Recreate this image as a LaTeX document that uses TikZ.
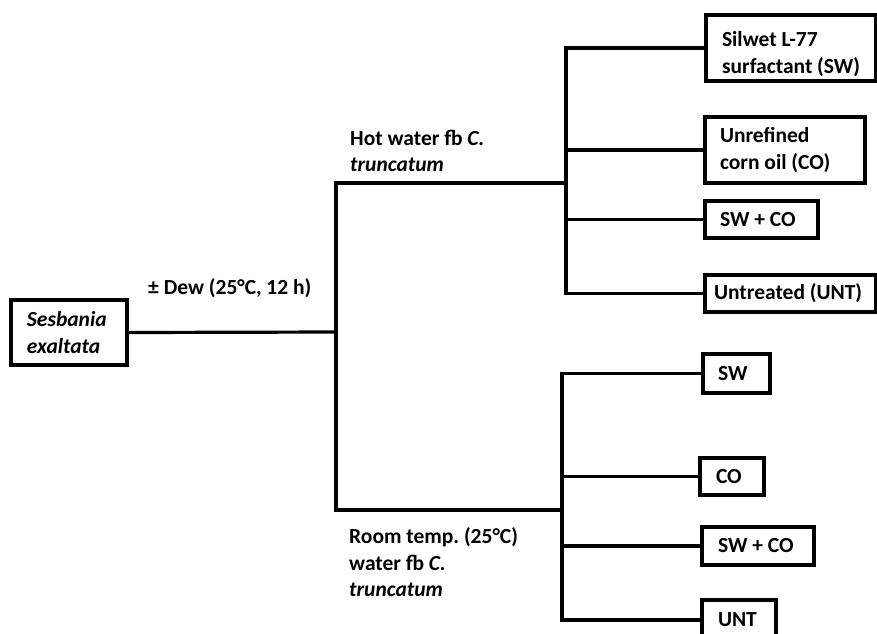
\documentclass[tikz,border=0pt]{standalone}
\usepackage{fontspec}
\setmainfont{Carlito}
\begin{document}
\frenchspacing
\begin{tikzpicture}[x=1pt,y=-1pt,
  every node/.style={font=\fontsize{21.5}{26.5}\selectfont\bfseries},
  bx/.style={draw, line width=3.2pt, align=flush left, inner ysep=0pt},
  lbl/.style={align=flush left, inner sep=0pt, anchor=west},
  conn/.style={line width=3.2pt}]
\useasboundingbox (0,0) rectangle (877,633);
% boxes
\node[bx, minimum width=116, minimum height=65, inner xsep=16, text width=84] (ses) at (69,332.5) {\textit{Sesbania}\\\textit{exaltata}};
\node[bx, minimum width=170, minimum height=66, inner xsep=16, text width=138] (b1) at (791,48) {\rule{0pt}{27pt}Silwet L-77\\surfactant (SW)};
\node[bx, minimum width=160, minimum height=66, inner xsep=15, text width=130] (b2) at (785,150) {Unrefined\\corn oil (CO)};
\node[bx, minimum width=113, minimum height=37, inner xsep=15, text width=83] (b3) at (761.5,219.5) {SW + CO};
\node[bx, minimum width=171, minimum height=37, inner xsep=9, text width=153] (b4) at (790.5,293.5) {Untreated (UNT)};
\node[bx, minimum width=67, minimum height=39, inner xsep=15, text width=37] (c1) at (736.5,373.5) {SW};
\node[bx, minimum width=64, minimum height=37, inner xsep=16, text width=32] (c2) at (732,476.5) {CO};
\node[bx, minimum width=112, minimum height=38, inner xsep=16, text width=80] (c3) at (758,546) {SW + CO};
\node[bx, minimum width=74, minimum height=40, inner xsep=16, text width=42] (c4) at (739,620) {UNT};
% labels
\node[lbl] (dew) at (148,288) {\textpm{} Dew (25°C, 12 h)};
\node[lbl] (hot) at (350,151) {Hot water fb \textit{C.}\\\textit{truncatum}};
\node[lbl] (room) at (349,562.5) {Room temp. (25°C)\\water fb \textit{C.}\\\textit{truncatum}};
% junctions
\coordinate (m) at (336,332);
\coordinate (mt) at (336,183);
\coordinate (mb) at (336,510);
\coordinate (t) at (566,183);
\coordinate (b) at (562,510);
% connectors
\draw[conn] (ses.east) -- (m);
\draw[conn] (t) -- (mt) -- (mb) -- (b);
\draw[conn] (b1.west) -- (t |- b1.west) -- (t |- b4.west) -- (b4.west);
\draw[conn] (t |- b2.west) -- (b2.west);
\draw[conn] (t |- b3.west) -- (b3.west);
\draw[conn] (c1.west) -- (b |- c1.west) -- (b |- c4.west) -- (c4.west);
\draw[conn] (b |- c2.west) -- (c2.west);
\draw[conn] (b |- c3.west) -- (c3.west);
\end{tikzpicture}
\end{document}
